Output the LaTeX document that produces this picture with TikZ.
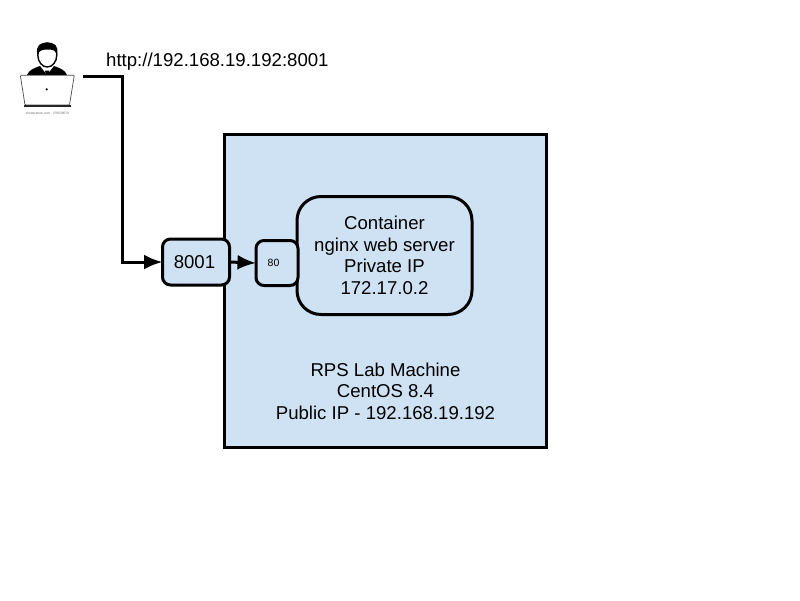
\documentclass[tikz,border=0pt]{standalone}
\usepackage{fontspec}
\setmainfont{Liberation Sans}
\usetikzlibrary{arrows.meta}
\definecolor{fillblue}{HTML}{CFE2F3}
\tikzset{
  x=1pt,y=-1pt,
  box/.style={draw=black,line width=3pt,fill=fillblue,inner sep=0pt,outer sep=0pt,align=center,font=\fontsize{18.6}{21.5}\selectfont},
  link/.style={draw=black,line width=3pt},
  arrowlink/.style={link,-{Latex[length=18.5pt,width=15pt]}},
  lbl/.style={inner sep=0pt,align=center,font=\fontsize{18.6}{21.5}\selectfont}
}
\begin{document}
\begin{tikzpicture}
\useasboundingbox (0,0) rectangle (800,600);
\fill[white] (0,0) rectangle (800,600);
% host
\node[box,sharp corners,minimum width=322pt,minimum height=313pt] (host) at (385.5,291) {};
\node[lbl] (hostlbl) at (385.5,391) {RPS Lab Machine\\CentOS 8.4\\Public IP - 192.168.19.192};
% container
\node[box,rounded corners=24pt,minimum width=175pt,minimum height=118pt] (cont) at (384.5,255.5) {Container\\nginx web server\\Private IP\\172.17.0.2};
% ports
\node[box,rounded corners=8pt,minimum width=67pt,minimum height=46pt] (p8001) at (196,262) {\hspace*{-3pt}8001};
\node[box,rounded corners=8pt,minimum width=42pt,minimum height=45pt,font=\fontsize{10.5}{12}\selectfont] (p80) at (277,263) {\hspace*{-7pt}80};
% url
\node[lbl,anchor=west] (url) at (106,62) {http://192.168.19.192:8001};
% user icon
\coordinate (user) at (83,76.5);
\coordinate (bend1) at (122.5,76.5);
\coordinate (bend2) at (122.5,262);
% person
\fill[black] (27,75) .. controls (29,70) and (34,68) .. (40,66) -- (47,75) -- (54,66) .. controls (60,68) and (65,70) .. (67,75) -- cycle;
\fill[black] (45,70.5) -- (49.5,70.5) -- (48.5,75) -- (46,75) -- cycle;
\draw[black,line width=1.4pt,fill=white] (47.3,55) ellipse (9.5pt and 12pt);
\fill[black] (37.5,55) .. controls (35,45) and (41,42.5) .. (47.3,42.5) .. controls (54,42.5) and (59,45) .. (57,55) .. controls (56,50) and (52,49.5) .. (47.3,49.5) .. controls (43,49.5) and (39,50) .. (37.5,55) -- cycle;
% laptop
\draw[line width=0.7pt,fill=white,draw=black!70,rounded corners=1pt] (20.3,75.3) -- (74.3,75.3) -- (69.5,105) -- (25,105) -- cycle;
\fill[black!85] (24,104.5) rectangle (70.7,107.2);
\fill[black] (46.7,89.3) circle (1.2pt);
\node[inner sep=0pt,text=black!60,font=\fontsize{3.2}{4}\selectfont] (stock) at (47.5,113.5) {shutterstock.com · 279539570};
% connectors
\draw[arrowlink] (user) -- (bend1) -- (bend2) -- (p8001.west);
\draw[arrowlink] (p8001.east) -- (p80.west);
\end{tikzpicture}
\end{document}
